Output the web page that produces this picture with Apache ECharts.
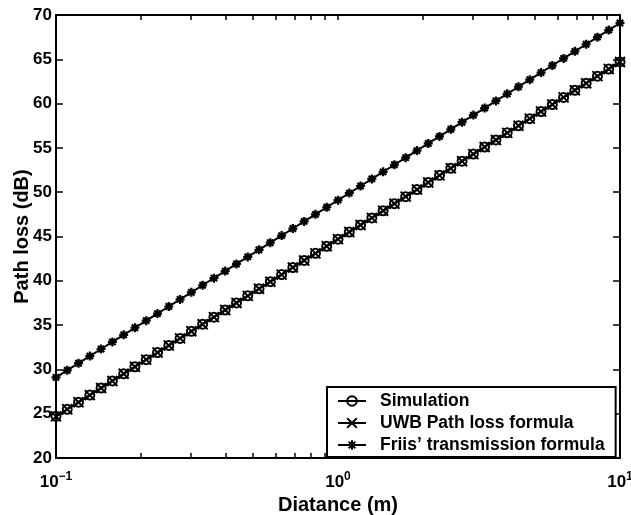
<!DOCTYPE html>
<html>
<head>
<meta charset="utf-8">
<script src="https://cdn.jsdelivr.net/npm/echarts@6/dist/echarts.min.js"></script>
<style>html,body{margin:0;padding:0;background:#fff}#c{width:631px;height:515px}</style>
</head>
<body>
<div id="c"></div>
<script>
var distance = [0.1, 0.1096, 0.1202, 0.1318, 0.1445, 0.1585, 0.1738, 0.1905, 0.2089, 0.2291,
  0.2512, 0.2754, 0.3020, 0.3311, 0.3631, 0.3981, 0.4365, 0.4786, 0.5248, 0.5754,
  0.6310, 0.6918, 0.7586, 0.8318, 0.9120, 1.0, 1.0965, 1.2023, 1.3183, 1.4454,
  1.5849, 1.7378, 1.9055, 2.0893, 2.2909, 2.5119, 2.7542, 3.0200, 3.3113, 3.6308,
  3.9811, 4.3652, 4.7863, 5.2481, 5.7544, 6.3096, 6.9183, 7.5858, 8.3176, 9.1201, 10];
var simulation = [24.7, 25.5, 26.3, 27.1, 27.9, 28.7, 29.5, 30.3, 31.1, 31.9,
  32.7, 33.5, 34.3, 35.1, 35.9, 36.7, 37.5, 38.3, 39.1, 39.9,
  40.7, 41.5, 42.3, 43.1, 43.9, 44.7, 45.5, 46.3, 47.1, 47.9,
  48.7, 49.5, 50.3, 51.1, 51.9, 52.7, 53.5, 54.3, 55.1, 55.9,
  56.7, 57.5, 58.3, 59.1, 59.9, 60.7, 61.5, 62.3, 63.1, 63.9, 64.7];
var uwbFormula = [24.7, 25.5, 26.3, 27.1, 27.9, 28.7, 29.5, 30.3, 31.1, 31.9,
  32.7, 33.5, 34.3, 35.1, 35.9, 36.7, 37.5, 38.3, 39.1, 39.9,
  40.7, 41.5, 42.3, 43.1, 43.9, 44.7, 45.5, 46.3, 47.1, 47.9,
  48.7, 49.5, 50.3, 51.1, 51.9, 52.7, 53.5, 54.3, 55.1, 55.9,
  56.7, 57.5, 58.3, 59.1, 59.9, 60.7, 61.5, 62.3, 63.1, 63.9, 64.7];
var friis = [29.1, 29.9, 30.7, 31.5, 32.3, 33.1, 33.9, 34.7, 35.5, 36.3,
  37.1, 37.9, 38.7, 39.5, 40.3, 41.1, 41.9, 42.7, 43.5, 44.3,
  45.1, 45.9, 46.7, 47.5, 48.3, 49.1, 49.9, 50.7, 51.5, 52.3,
  53.1, 53.9, 54.7, 55.5, 56.3, 57.1, 57.9, 58.7, 59.5, 60.3,
  61.1, 61.9, 62.7, 63.5, 64.3, 65.1, 65.9, 66.7, 67.5, 68.3, 69.1];
var seriesNames = ['Simulation', 'UWB Path loss formula', 'Friis\u2019 transmission formula'];
var xTickValues = [0.1, 0.2, 0.3, 0.4, 0.5, 0.6, 0.7, 0.8, 0.9, 1, 2, 3, 4, 5, 6, 7, 8, 9, 10];
var xLabelValues = [0.1, 1, 10];

function pairs(ys) { return distance.map(function (d, i) { return [d, ys[i]]; }); }

var FONT = 'Liberation Sans, Arial, sans-serif';
var chart = echarts.init(document.getElementById('c'));
var xBase = {
  type: 'log', logBase: 10, min: 0.1, max: 10,
  axisLine: { show: true, lineStyle: { color: '#000', width: 2 } },
  axisTick: { show: true, inside: true, length: 5, lineStyle: { color: '#000', width: 1.5 }, customValues: xTickValues },
  splitLine: { show: false },
  minorTick: { show: false }
};
var yBase = {
  type: 'value', min: 20, max: 70, interval: 5,
  axisLine: { show: true, lineStyle: { color: '#000', width: 2 } },
  axisTick: { show: true, inside: true, length: 7, lineStyle: { color: '#000', width: 1.5 } },
  splitLine: { show: false }
};
var xSym = 'path://M0,0L10,10M0,10L10,0';
var starSym = 'path://M5,0L5,10M0,5L10,5M1.5,1.5L8.5,8.5M1.5,8.5L8.5,1.5';

chart.setOption({
  animation: false,
  backgroundColor: '#fff',
  textStyle: { fontFamily: FONT },
  grid: { left: 56, right: 11, top: 15, bottom: 57, containLabel: false, outerBoundsMode: 'none' },
  xAxis: [
    Object.assign({}, xBase, {
      position: 'bottom',
      name: 'Diatance (m)', nameLocation: 'middle', nameGap: 36,
      nameTextStyle: { color: '#000', fontSize: 20, fontWeight: 'bold', fontFamily: FONT },
      axisLabel: {
        show: true, margin: 13, color: '#000', customValues: xLabelValues,
        formatter: function (v) {
          var e = Math.round(Math.log10(v));
          return '{b|10}{s|' + (e < 0 ? '\u2212' + (-e) : e) + '}';
        },
        rich: {
          b: { fontSize: 17, fontWeight: 'bold', color: '#000', fontFamily: FONT, verticalAlign: 'bottom' },
          s: { fontSize: 12, fontWeight: 'bold', color: '#000', fontFamily: FONT, verticalAlign: 'bottom', padding: [0, 0, 8, 0] }
        }
      }
    }),
    Object.assign({}, xBase, { position: 'top', axisLabel: { show: false } })
  ],
  yAxis: [
    Object.assign({}, yBase, {
      position: 'left',
      name: 'Path loss (dB)', nameLocation: 'middle', nameGap: 24, nameMoveOverlap: false,
      nameTextStyle: { color: '#000', fontSize: 20, fontWeight: 'bold', fontFamily: FONT },
      axisLabel: { show: true, margin: 4, color: '#000', fontSize: 17, fontWeight: 'bold', fontFamily: FONT }
    }),
    Object.assign({}, yBase, { position: 'right', axisLabel: { show: false } })
  ],
  legend: {
    orient: 'vertical',
    left: 327, top: 387,
    width: 288,
    padding: [5, 11, 3, 10],
    itemGap: 4,
    itemWidth: 28, itemHeight: 12,
    borderColor: '#000', borderWidth: 2,
    backgroundColor: '#fff',
    textStyle: { color: '#000', fontSize: 17.5, fontWeight: 'bold', fontFamily: FONT, padding: [0, 0, 0, 9] },
    data: seriesNames
  },
  series: [
    {
      name: seriesNames[2], type: 'line', data: pairs(friis),
      symbol: starSym, symbolSize: 9,
      lineStyle: { color: '#000', width: 2 },
      itemStyle: { color: '#000', borderColor: '#000', borderWidth: 2.2 },
      z: 3
    },
    {
      name: seriesNames[1], type: 'line', data: pairs(uwbFormula),
      symbol: xSym, symbolSize: 10,
      lineStyle: { color: '#000', width: 2 },
      itemStyle: { color: '#000', borderColor: '#000', borderWidth: 2 },
      z: 4
    },
    {
      name: seriesNames[0], type: 'line', data: pairs(simulation),
      symbol: 'circle', symbolSize: 9,
      lineStyle: { color: '#000', width: 2 },
      itemStyle: { color: 'rgba(255,255,255,0)', borderColor: '#000', borderWidth: 2 },
      z: 5
    }
  ]
});
</script>
</body>
</html>
